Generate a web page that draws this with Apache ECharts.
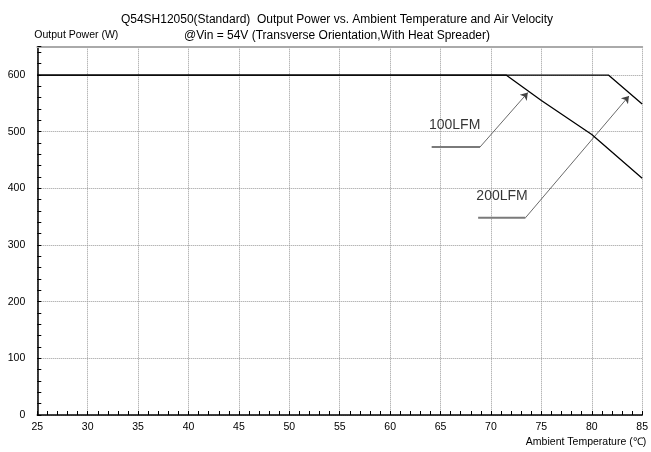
<!DOCTYPE html>
<html><head><meta charset="utf-8">
<script src="https://cdn.jsdelivr.net/npm/echarts@6/dist/echarts.min.js"></script>
<style>html,body{margin:0;padding:0;background:#fff}#c{width:651px;height:452px}</style>
</head><body><div id="c"></div>
<script>
const titleLine1 = 'Q54SH12050(Standard)  Output Power vs. Ambient Temperature and Air Velocity';
const titleLine2 = '@Vin = 54V (Transverse Orientation,With Heat Spreader)';
const yName = 'Output Power (W)';
const xName = 'Ambient Temperature (\u2103)';
const temp100 = [25, 71.5, 75, 80, 85];
const power100 = [600, 600, 555, 495, 418];
const temp200 = [25, 81.65, 85];
const power200 = [600, 600, 549];
const seriesNames = ['100LFM', '200LFM'];
const labelAt = [[66.4, 512], [71.1, 387]];
const leaderFlat = [[[64.12, 473], [68.92, 473]], [[68.73, 348], [73.42, 348]]];
const leaderArrow = [[[68.92, 473], [73.66, 569]], [[73.42, 348], [83.69, 563]]];

const zip = (a, b) => a.map((v, i) => [v, b[i]]);
const font = 'Liberation Sans, Arial, sans-serif';
const chart = echarts.init(document.getElementById('c'), null, {renderer: 'canvas'});

const series = [
  {type: 'line', name: seriesNames[0], data: zip(temp100, power100), symbol: 'none', lineStyle: {color: '#000', width: 1.3}, z: 5},
  {type: 'line', name: seriesNames[1], data: zip(temp200, power200), symbol: 'none', lineStyle: {color: '#000', width: 1.3}, z: 5}
];
leaderFlat.forEach(seg => series.push({type: 'line', data: seg, symbol: 'none', lineStyle: {color: '#7a7a7a', width: 2}, z: 4, silent: true}));
series.push({
  type: 'lines', coordinateSystem: 'cartesian2d', z: 4,
  data: leaderArrow.map(s => ({coords: s})),
  symbol: ['none', 'arrow'], symbolSize: 7,
  lineStyle: {color: '#444', width: 0.8, opacity: 1}
});
series.push({
  type: 'scatter', symbolSize: 0, z: 6,
  data: labelAt.map((p, i) => ({value: p, name: seriesNames[i]})),
  label: {show: true, position: 'inside', formatter: '{b}', color: '#000', fontSize: 14, fontFamily: font}
});

chart.setOption({
  animation: false,
  backgroundColor: '#fff',
  title: {
    text: titleLine1 + '\n' + titleLine2,
    left: 332, top: 7, textAlign: 'center',
    textStyle: {fontSize: 12, fontWeight: 'normal', color: '#000', fontFamily: font, lineHeight: 16, align: 'center'}
  },
  grid: {left: 37.3, right: 5.3, top: 46.7, bottom: 37},
  xAxis: [{
    type: 'value', min: 25, max: 85, interval: 5,
    name: xName, nameLocation: 'end', nameGap: 4,
    nameTextStyle: {align: 'right', verticalAlign: 'top', padding: [22, 0, 0, 0], fontSize: 10.5, color: '#000', fontFamily: font},
    axisLine: {show: true, lineStyle: {color: '#000', width: 1.5}},
    axisTick: {show: true, inside: true, length: 4, lineStyle: {color: '#000'}},
    minorTick: {show: true, splitNumber: 5, length: 4, lineStyle: {color: '#000'}},
    axisLabel: {color: '#000', fontSize: 10.5, margin: 7, fontFamily: font},
    splitLine: {show: true, lineStyle: {color: '#999', type: [1, 1], width: 1}}
  }, {
    type: 'value', min: 25, max: 85, position: 'top',
    axisLine: {show: true, onZero: false, lineStyle: {color: '#aaa', width: 2}},
    axisTick: {show: false}, axisLabel: {show: false}, splitLine: {show: false}
  }],
  yAxis: [{
    type: 'value', min: 0, max: 650, interval: 100,
    name: yName, nameLocation: 'end', nameGap: 6,
    nameTextStyle: {align: 'left', padding: [0, 0, 0, -3], fontSize: 10.5, color: '#000', fontFamily: font},
    axisLine: {show: true, lineStyle: {color: '#000', width: 1.5}},
    axisTick: {show: true, inside: true, length: 4, lineStyle: {color: '#000'}},
    minorTick: {show: true, splitNumber: 5, length: 4, lineStyle: {color: '#000'}},
    axisLabel: {color: '#000', fontSize: 10.5, margin: 12, fontFamily: font, showMaxLabel: false},
    splitLine: {show: true, lineStyle: {color: '#999', type: [1, 1], width: 1}}
  }],
  series: series
});
</script></body></html>
